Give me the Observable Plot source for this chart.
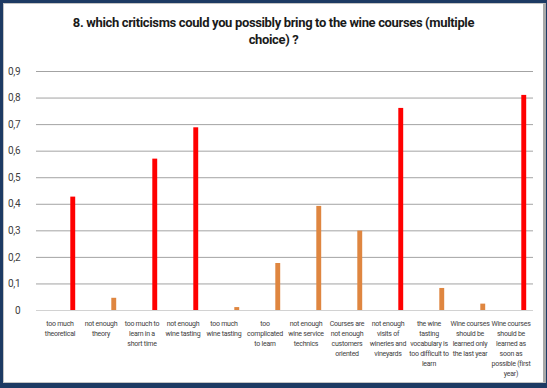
<!DOCTYPE html>
<html>
<head>
<meta charset="utf-8">
<script src="https://cdn.jsdelivr.net/npm/d3@7"></script>
<script src="https://cdn.jsdelivr.net/npm/@observablehq/plot@0.6"></script>
<style>
  html, body { margin: 0; padding: 0; }
  body { width: 547px; height: 388px; background: #1d3a63; position: relative; overflow: hidden; }
  #panel { position: absolute; left: 3px; top: 3px; width: 539px; height: 378px; background: #fff;
    border-top: 1px solid #c4c4c4; border-left: 1px solid #c4c4c4; border-right: 3px solid #a9a9a9; border-bottom: 1px solid #c4c4c4; }
  #title { height: 48px; box-sizing: border-box; padding-top: 10px; text-align: center;
    font-family: "Roboto", sans-serif; font-weight: bold; font-size: 13px; letter-spacing: -0.35px; line-height: 17px; color: #1a1a1a; }
  #chart svg { display: block; }
  #chart svg g[aria-label="x-axis tick label"] text { letter-spacing: -0.25px; }
  #chart svg g[aria-label="y-axis tick label"] text { letter-spacing: -0.2px; }
</style>
</head>
<body>
<div id="panel">
  <div id="title">8. which criticisms could you possibly bring to the wine courses (multiple<br>choice) ?</div>
  <div id="chart"></div>
</div>
<script>
const categories = [
  "too much theoretical",
  "not enough theory",
  "too much to learn in a short time",
  "not enough wine tasting",
  "too much wine tasting",
  "too complicated to learn",
  "not enough wine service technics",
  "Courses are not enough customers oriented",
  "not enough visits of wineries and vineyards",
  "the wine tasting vocabulary is too difficult to learn",
  "Wine courses should be learned only the last year",
  "Wine courses should be learned as soon as possible (first year)"
];
const categoryLabels = [
  "too much\ntheoretical",
  "not enough\ntheory",
  "too much to\nlearn in a\nshort time",
  "not enough\nwine tasting",
  "too much\nwine tasting",
  "too\ncomplicated\nto learn",
  "not enough\nwine service\ntechnics",
  "Courses are\nnot enough\ncustomers\noriented",
  "not enough\nvisits of\nwineries and\nvineyards",
  "the wine\ntasting\nvocabulary is\ntoo difficult to\nlearn",
  "Wine courses\nshould be\nlearned only\nthe last year",
  "Wine courses\nshould be\nlearned as\nsoon as\npossible (first\nyear)"
];
const values = [0.427, 0.046, 0.570, 0.688, 0.011, 0.177, 0.392, 0.299, 0.761, 0.083, 0.024, 0.810];
const groups = ["high", "low", "high", "high", "low", "low", "low", "low", "high", "low", "low", "high"];
const groupNames = ["high", "low"];
const groupColors = ["#ff0000", "#df8640"];
const yTicks = [0, 0.1, 0.2, 0.3, 0.4, 0.5, 0.6, 0.7, 0.8, 0.9];
const yTickLabels = ["0", "0,1", "0,2", "0,3", "0,4", "0,5", "0,6", "0,7", "0,8", "0,9"];

const data = categories.map((c, i) => ({category: c, value: values[i], group: groups[i]}));
const labelOf = new Map(categories.map((c, i) => [c, categoryLabels[i]]));
const yLabelOf = new Map(yTicks.map((t, i) => [t, yTickLabels[i]]));

const chart = Plot.plot({
  width: 539,
  height: 330,
  marginTop: 19,
  marginLeft: 32,
  marginRight: 10,
  marginBottom: 72,
  style: {fontFamily: "Roboto, sans-serif", color: "#404040", background: "transparent"},
  x: {domain: categories, padding: 0, label: null},
  y: {domain: [0, 0.9], label: null},
  color: {domain: groupNames, range: groupColors},
  marks: [
    Plot.ruleY(yTicks.filter(t => t > 0), {stroke: "#a3a3a3", strokeWidth: 1}),
    Plot.ruleY([0], {stroke: "#d2d2d2", strokeWidth: 1}),
    Plot.barY(data, {x: "category", y: "value", fill: "group", insetLeft: 31.3, insetRight: 4.8}),
    Plot.axisX({tickSize: 0, tickPadding: 8, fontSize: 7, lineHeight: 1.45, tickFormat: d => labelOf.get(d), label: null}),
    Plot.axisY({ticks: yTicks, tickSize: 0, tickPadding: 16, fontSize: 10, tickFormat: d => yLabelOf.get(d), label: null})
  ]
});
document.getElementById("chart").appendChild(chart);
</script>
</body>
</html>
